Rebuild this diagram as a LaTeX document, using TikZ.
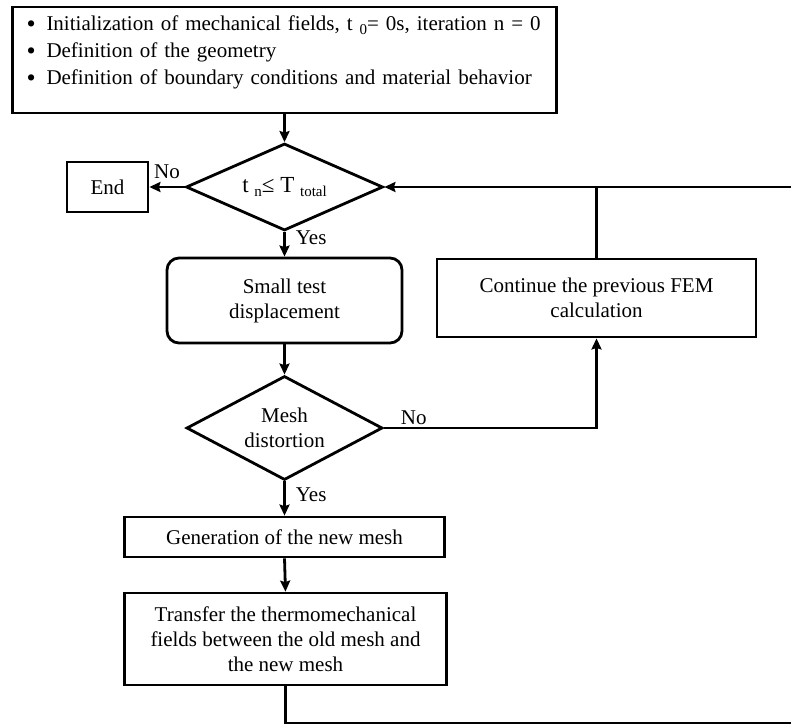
\documentclass[tikz,border=0pt]{standalone}
\usepackage{fontspec}
\setmainfont{Liberation Serif}
\usetikzlibrary{shapes.geometric,arrows.meta}
\tikzset{>={Stealth[length=11pt,width=10pt,inset=1.5pt]}}
\tikzset{
  box/.style={draw,line width=2.8pt,align=center,inner sep=2pt},
  decision/.style={diamond,draw,line width=2.8pt,align=center,aspect=2,inner sep=1pt},
  lbl/.style={inner sep=2pt}
}
\newcommand*{\bul}{\makebox[20pt][l]{\raisebox{-2.5pt}{\fontsize{26}{25}\selectfont\textbullet}}}
\newcommand*{\lowidx}[1]{\raisebox{-4pt}{\fontsize{15}{15}\selectfont #1}}

\begin{document}
\begin{tikzpicture}[x=1pt,y=-1pt,line width=2.8pt,font=\fontsize{21}{25}\selectfont]
\useasboundingbox (0,0) rectangle (791,725);
% Initial box and time test
\node[box,align=left,text width=516pt,minimum width=544pt,minimum height=106pt,font=\fontsize{21}{27}\selectfont] (init) at (284.5,60)
  {\bul Initialization of mechanical fields, t \lowidx{0}= 0s, iteration n = 0\\
   \bul Definition of the geometry\\
   \bul Definition of boundary conditions and material behavior\rule[-20pt]{0pt}{0pt}};
\node[decision,minimum width=197pt,minimum height=87pt,font=\fontsize{23}{25}\selectfont] (cond) at (284.5,187) {t \lowidx{n}≤ T \lowidx{total}};
\node[box,minimum width=81pt,minimum height=50pt] (endbox) at (107.5,187) {End};
% Remeshing loop
\node[box,rounded corners=12pt,minimum width=235pt,minimum height=85pt] (test) at (284.5,300.5) {Small test\\displacement};
\node[decision,minimum width=196pt,minimum height=104pt] (mesh) at (284.5,428) {Mesh\\distortion};
\node[box,minimum width=319pt,minimum height=78pt] (cont) at (596.5,298) {Continue the previous FEM\\calculation};
\node[box,minimum width=320pt,minimum height=40pt] (gen) at (284.5,537) {Generation of the new mesh};
\node[box,minimum width=322pt,minimum height=92pt] (trans) at (285.5,639) {Transfer the thermomechanical\\fields between the old mesh and\\the new mesh};
% Connectors
\draw[->] (init.south) -- (cond.north);
\draw[->] (cond.west) -- node[lbl,above,yshift=5pt] (no1) {No} (endbox.east);
\draw[->] (cond.south) -- node[lbl,right,xshift=8pt,yshift=7pt] (yes1) {Yes} (test.north);
\draw[->] (test.south) -- (mesh.north);
\draw[->] (mesh.east) -| node[lbl,pos=0.07,above] (no2) {No} (cont.south);
\draw[->] (mesh.south) -- node[lbl,right,xshift=8pt,yshift=4pt] (yes2) {Yes} (gen.north);
\draw[->] (gen.south) -- (trans.north);
\coordinate (back) at (797,723);
\draw[->] (trans.south) |- (back) |- (cond.east);
\draw (cont.north) -- (cont.north |- cond.east);
\end{tikzpicture}
\end{document}
